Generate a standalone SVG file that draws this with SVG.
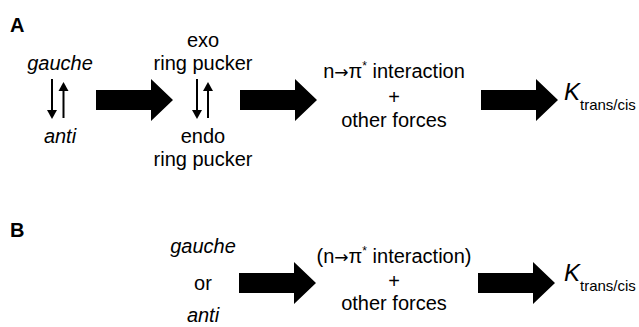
<svg xmlns="http://www.w3.org/2000/svg" width="639" height="327" viewBox="0 0 639 327">
<style>
text{font-family:"Liberation Sans",Arial,"DejaVu Sans",sans-serif;fill:#000}
.t{font-size:20px;text-anchor:middle}
.i{font-style:italic}
.lab{font-size:20px;font-weight:bold}
.k{font-size:24px;font-style:italic}
.sub{font-size:15px}
.ar{font-family:"DejaVu Sans",sans-serif;font-size:17px}
.eq{stroke:#000;stroke-width:2;fill:none}
.big{fill:#000}
</style>
<defs>
<path id="bigarrow" d="M0,-10 H55 V-21 L77,0 L55,21 V10 H0 Z"/>
<polygon id="hd" points="-5,0 5,0 0,9"/>
<polygon id="hu" points="-5,0 5,0 0,-9"/>
</defs>
<g id="labelA"><text class="lab" x="10" y="32">A</text></g>
<g id="labelB"><text class="lab" x="10" y="237">B</text></g>
<g id="nodeA1">
<text class="t i" x="60" y="70">gauche</text>
<text class="t i" x="60" y="143">anti</text>
</g>
<g id="nodeA2">
<text class="t" x="203" y="47">exo</text>
<text class="t" x="203" y="70">ring pucker</text>
<text class="t" x="203" y="143">endo</text>
<text class="t" x="203" y="166">ring pucker</text>
</g>
<g id="nodeA3">
<text class="t" x="394" y="78">n<tspan class="ar">→</tspan>π<tspan font-size="12" dy="-8">*</tspan><tspan dy="8"> interaction</tspan></text>
<text class="t" x="394" y="104">+</text>
<text class="t" x="394" y="127">other forces</text>
</g>
<g id="nodeA4">
<text class="k" x="564" y="100">K</text><text class="sub" x="580" y="110">trans/cis</text>
</g>
<g id="nodeB1">
<text class="t i" x="203" y="253">gauche</text>
<text class="t" x="203" y="290">or</text>
<text class="t i" x="203" y="322">anti</text>
</g>
<g id="nodeB2">
<text class="t" x="394" y="263">(n<tspan class="ar">→</tspan>π<tspan font-size="12" dy="-8">*</tspan><tspan dy="8"> interaction)</tspan></text>
<text class="t" x="394" y="288">+</text>
<text class="t" x="394" y="310">other forces</text>
</g>
<g id="nodeB3">
<text class="k" x="564" y="281">K</text><text class="sub" x="580" y="291">trans/cis</text>
</g>
<g id="connectors">
<line class="eq" x1="52" y1="79" x2="52" y2="111"/>
<use href="#hd" x="52" y="110"/>
<line class="eq" x1="63.5" y1="90" x2="63.5" y2="118"/>
<use href="#hu" x="63.5" y="91"/>
<line class="eq" x1="197" y1="79" x2="197" y2="111"/>
<use href="#hd" x="197" y="110"/>
<line class="eq" x1="208" y1="90" x2="208" y2="118"/>
<use href="#hu" x="208" y="91"/>
<use class="big" href="#bigarrow" x="96" y="100"/>
<use class="big" href="#bigarrow" x="240" y="100"/>
<use class="big" href="#bigarrow" x="481" y="100"/>
<use class="big" href="#bigarrow" x="239" y="283"/>
<use class="big" href="#bigarrow" x="478" y="283"/>
</g>
</svg>
